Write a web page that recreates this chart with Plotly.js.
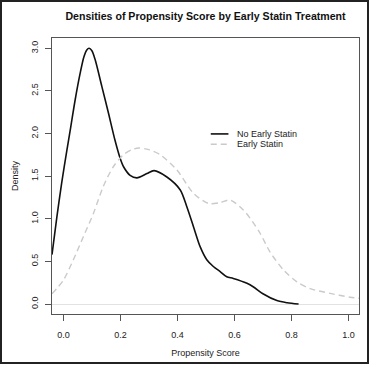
<!DOCTYPE html>
<html>
<head>
<meta charset="utf-8">
<script src="https://cdn.plot.ly/plotly-3.0.1.min.js"></script>
<style>
  html, body { margin: 0; padding: 0; background: #fff; }
  #wrap { position: relative; width: 370px; height: 367px; }
  #chart { position: absolute; left: 0; top: 0; width: 370px; height: 367px; }
  #frame { position: absolute; left: 0; top: 0; width: 369px; height: 364px; box-sizing: border-box; border: 2px solid #222; pointer-events: none; }
</style>
</head>
<body>
<div id="wrap"><div id="chart"></div><div id="frame"></div></div>
<script>
// Density of propensity score, No Early Statin
const noStatinX = [-0.04, -0.023, -0.006, 0.012, 0.026, 0.041, 0.059, 0.072, 0.082, 0.09, 0.1, 0.111, 0.135, 0.158, 0.181, 0.199, 0.211, 0.234, 0.258, 0.293, 0.318, 0.363, 0.41, 0.433, 0.456, 0.48, 0.503, 0.526, 0.55, 0.573, 0.596, 0.644, 0.667, 0.70, 0.749, 0.785, 0.825];
const noStatinY = [0.58, 1.02, 1.42, 1.8, 2.08, 2.39, 2.71, 2.9, 2.98, 3.0, 2.97, 2.87, 2.55, 2.24, 1.92, 1.71, 1.61, 1.51, 1.48, 1.53, 1.565, 1.49, 1.338, 1.14, 0.91, 0.67, 0.52, 0.44, 0.38, 0.32, 0.30, 0.243, 0.20, 0.12, 0.04, 0.015, 0.0];
// Density of propensity score, Early Statin
const statinX = [-0.04, 0.0, 0.035, 0.07, 0.105, 0.14, 0.175, 0.21, 0.24, 0.265, 0.30, 0.34, 0.398, 0.456, 0.509, 0.55, 0.585, 0.632, 0.655, 0.69, 0.725, 0.772, 0.819, 0.866, 0.936, 1.006, 1.04];
const statinY = [0.12, 0.28, 0.52, 0.79, 1.06, 1.38, 1.61, 1.75, 1.81, 1.83, 1.81, 1.75, 1.573, 1.30, 1.18, 1.19, 1.22, 1.10, 1.006, 0.83, 0.61, 0.40, 0.26, 0.18, 0.125, 0.079, 0.067];

const xTicks = [0, 0.2, 0.4, 0.6, 0.8, 1.0];
const yTicks = [0, 0.5, 1, 1.5, 2, 2.5, 3];
const seriesNames = ["No Early Statin", "Early Statin"];

const FONT = "'Liberation Sans', Arial, Helvetica, sans-serif";
const blackLine = {color: '#111', width: 1.6, shape: 'spline', smoothing: 0.8};
const grayLine = {color: '#cacaca', width: 1.4, dash: '6px,4px', shape: 'spline', smoothing: 0.8};

const traces = [
  {x: noStatinX, y: noStatinY, type: 'scatter', mode: 'lines', name: seriesNames[0], line: blackLine, hoverinfo: 'skip'},
  {x: statinX, y: statinY, type: 'scatter', mode: 'lines', name: seriesNames[1], line: grayLine, hoverinfo: 'skip'}
];

const axisCommon = {
  showgrid: false, showline: true, mirror: true, linecolor: '#555', linewidth: 1,
  ticks: 'outside', ticklen: 6, tickcolor: '#555', tickwidth: 1,
  tickfont: {family: FONT, size: 9, color: '#222'}
};

const layout = {
  width: 370, height: 367,
  margin: {l: 52, r: 11, t: 38, b: 53},
  paper_bgcolor: '#fff', plot_bgcolor: '#fff',
  showlegend: false,
  font: {family: FONT, size: 9, color: '#222'},
  title: {text: '<b>Densities of Propensity Score by Early Statin Treatment</b>',
          font: {family: FONT, size: 10.6, color: '#111'},
          x: 0.5, xref: 'paper', xanchor: 'center', y: 1 - 16/367, yref: 'container', yanchor: 'middle'},
  xaxis: Object.assign({}, axisCommon, {
    range: [-0.04, 1.037], tickvals: xTicks, tickformat: '.1f', zeroline: false,
    ticklabelstandoff: 6,
    title: {text: 'Propensity Score', font: {family: FONT, size: 9, color: '#222'}, standoff: 10}
  }),
  yaxis: Object.assign({}, axisCommon, {
    range: [-0.117, 3.12], tickvals: yTicks, tickformat: '.1f', tickangle: -90,
    zeroline: true, zerolinecolor: '#e2e2e2', zerolinewidth: 1,
    ticklabelstandoff: 3,
    title: {text: 'Density', font: {family: FONT, size: 9, color: '#222'}, standoff: 10}
  }),
  shapes: [
    {type: 'line', xref: 'x', yref: 'y', x0: 0.517, x1: 0.579, y0: 1.995, y1: 1.995, line: {color: '#111', width: 1.6}},
    {type: 'line', xref: 'x', yref: 'y', x0: 0.517, x1: 0.579, y0: 1.874, y1: 1.874, line: {color: '#cacaca', width: 1.4, dash: '6px,4px'}}
  ],
  annotations: [
    {xref: 'x', yref: 'y', x: 0.603, y: 1.995, text: seriesNames[0], showarrow: false, xanchor: 'left', yanchor: 'middle', font: {family: FONT, size: 9, color: '#222'}},
    {xref: 'x', yref: 'y', x: 0.603, y: 1.874, text: seriesNames[1], showarrow: false, xanchor: 'left', yanchor: 'middle', font: {family: FONT, size: 9, color: '#222'}}
  ]
};

Plotly.newPlot('chart', traces, layout, {staticPlot: true, displayModeBar: false});
</script>
</body>
</html>
